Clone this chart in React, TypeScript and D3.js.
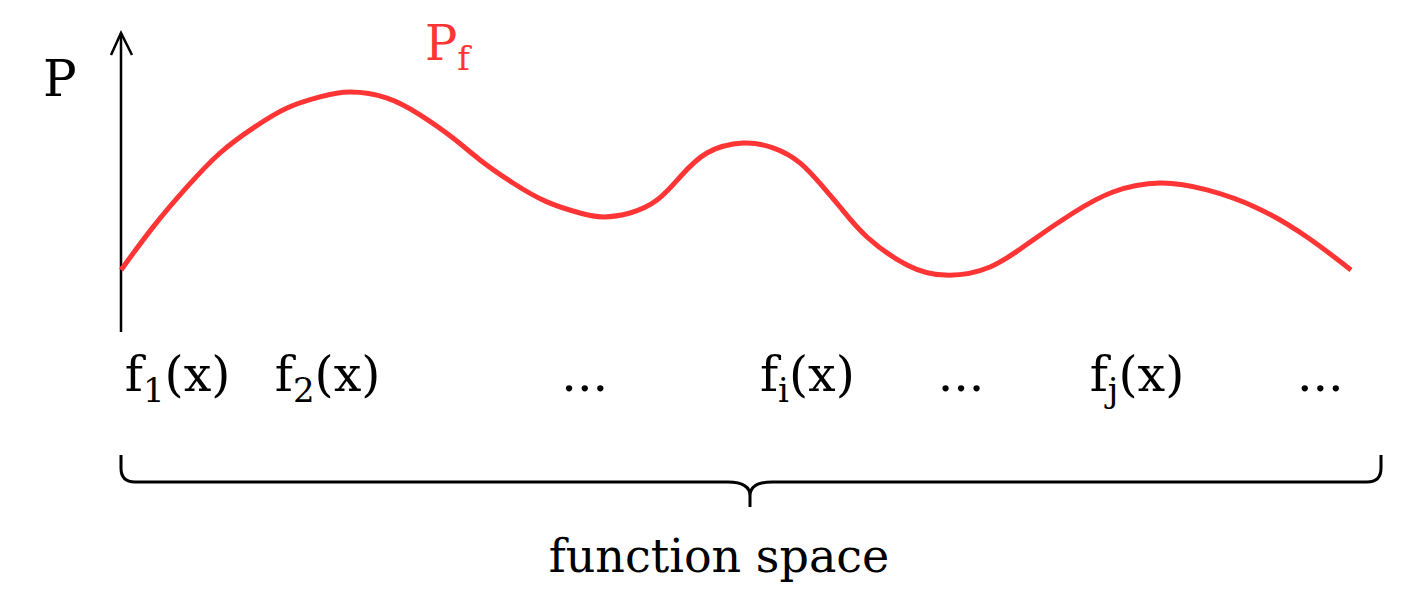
import React from 'react';
import * as d3 from 'd3';

// position along function space (0-100) and density value of P_f
const positions = [0, 2.6, 5.37, 8.05, 10.73, 13.5, 16.18, 18.62, 21.63, 24.31, 26.99, 29.19, 31.87, 34.63, 37.32, 39.19, 41.38, 43.58, 45.45, 47.64, 50.57, 53.01, 55.2, 57.07, 58.46, 60.65, 63.9, 66.99, 70.65, 74.15, 77.4, 80.65, 84.47, 88.29, 92.36, 96.42, 100];
const density = [0.2, 0.343, 0.477, 0.59, 0.673, 0.74, 0.777, 0.793, 0.773, 0.717, 0.64, 0.567, 0.49, 0.427, 0.39, 0.377, 0.39, 0.433, 0.51, 0.59, 0.623, 0.607, 0.557, 0.477, 0.41, 0.31, 0.217, 0.183, 0.21, 0.3, 0.39, 0.46, 0.49, 0.467, 0.407, 0.31, 0.2];

// tick labels below the axis: base, subscript, center position
const labelBase = ['f', 'f', '...', 'f', '...', 'f', '...'];
const labelSub = ['1', '2', '', 'i', '', 'j', ''];
const labelPos = [4.6, 16.8, 37.7, 55.8, 68.3, 82.6, 97.5];

const W = 1413;
const H = 603;
const red = '#ff3535';
const font = '"DejaVu Serif", serif';

const App = () => {
  const x = d3.scaleLinear().domain([0, 100]).range([121, 1351]);
  const y = d3.scaleLinear().domain([0, 1]).range([330, 30]);

  const line = d3
    .line<number>()
    .x((d, i) => x(positions[i]))
    .y((d) => y(d))
    .curve(d3.curveNatural);

  const x0 = x(0);
  const braceL = x0;
  const braceR = 1381;
  const braceMid = 750;
  const bTop = 455;
  const bY = 482;
  const bTip = 507;
  const brace = [
    `M${braceL},${bTop}`,
    `V${bY - 14}`,
    `Q${braceL},${bY} ${braceL + 14},${bY}`,
    `H${braceMid - 22}`,
    `Q${braceMid},${bY} ${braceMid},${bY + 14}`,
    `V${bTip}`,
    `M${braceMid},${bY + 14}`,
    `Q${braceMid},${bY} ${braceMid + 22},${bY}`,
    `H${braceR - 14}`,
    `Q${braceR},${bY} ${braceR},${bY - 14}`,
    `V${bTop}`,
  ].join(' ');

  return (
    <svg width={W} height={H} style={{ position: 'absolute', left: 0, top: 0, background: '#fff' }}>
      {/* y axis with open arrow head */}
      <line x1={x0} y1={y(0) + 2} x2={x0} y2={33} stroke="#000" strokeWidth={2.5} />
      <path d={`M${x0 - 10},55 L${x0},33 L${x0 + 11},55`} fill="none" stroke="#000" strokeWidth={2.5} />
      <text x={43} y={96} fontFamily={font} fontSize={50} fill="#000">P</text>

      <path d={line(density) || ''} fill="none" stroke={red} strokeWidth={5} />
      <text x={425} y={60} fontFamily={font} fontSize={48} fill={red}>
        P<tspan fontSize={34} dy={10}>f</tspan>
      </text>

      {labelBase.map((b, i) => (
        <text
          key={i}
          x={x(labelPos[i])}
          y={391}
          textAnchor="middle"
          fontFamily={font}
          fontSize={49}
          fill="#000"
        >
          {b}
          {labelSub[i] && (
            <>
              <tspan fontSize={34} dy={11}>{labelSub[i]}</tspan>
              <tspan dy={-11}>(x)</tspan>
            </>
          )}
        </text>
      ))}

      <path d={brace} fill="none" stroke="#000" strokeWidth={3} />
      <text x={719} y={572} textAnchor="middle" fontFamily={font} fontSize={46} fill="#000">
        function space
      </text>
    </svg>
  );
};

export default App;
